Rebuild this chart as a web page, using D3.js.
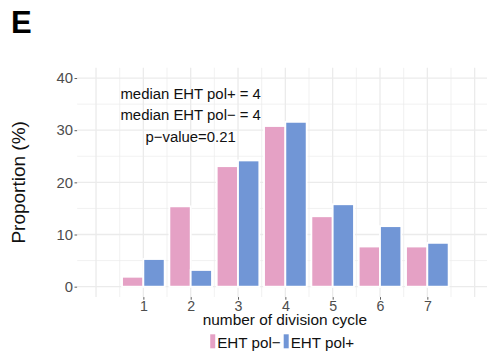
<!DOCTYPE html>
<html>
<head>
<meta charset="utf-8">
<script src="https://cdn.jsdelivr.net/npm/d3@7"></script>
<style>
  html, body { margin: 0; padding: 0; background: #fff; }
  svg { display: block; font-family: "Liberation Sans", Arial, Helvetica, sans-serif; }
</style>
</head>
<body>
<script>
// Division-cycle distribution for the two groups (percent of cells)
const cycles = [1, 2, 3, 4, 5, 6, 7];
const polMinus = [1.9, 15.4, 23.1, 30.8, 13.5, 7.7, 7.7];
const polPlus = [5.3, 3.2, 24.2, 31.6, 15.8, 11.6, 8.4];
const seriesNames = ["EHT pol\u2212", "EHT pol+"];
const seriesColors = ["#e5a1c5", "#7196d6"];
const yTicks = [0, 10, 20, 30, 40];
const notes = ["median EHT pol+ = 4", "median EHT pol\u2212 = 4", "p\u2212value=0.21"];

const W = 487, H = 354;
const svg = d3.select("body").append("svg").attr("width", W).attr("height", H);
svg.append("rect").attr("width", W).attr("height", H).attr("fill", "#fff");

const panel = { left: 77.1, right: 493.6, top: 67.6, bottom: 297.1 };
const x = d3.scaleLinear().domain([-0.4, 8.4]).range([panel.left, panel.right]);
const y = d3.scaleLinear().domain([-2, 42]).range([panel.bottom, panel.top]);

svg.append("clipPath").attr("id", "clip").append("rect")
  .attr("x", panel.left).attr("y", panel.top)
  .attr("width", panel.right - panel.left).attr("height", panel.bottom - panel.top);

const plot = svg.append("g").attr("clip-path", "url(#clip)");

// grid lines (minor then major)
const xMinor = d3.range(0.5, 8.5, 1);
const xMajor = d3.range(0, 9, 1);
const yMinor = [5, 15, 25, 35];
const grid = plot.append("g").attr("stroke", "#ebebeb");
grid.selectAll(".vx-minor").data(xMinor).join("line")
  .attr("x1", d => x(d)).attr("x2", d => x(d))
  .attr("y1", panel.top).attr("y2", panel.bottom).attr("stroke-width", 0.7);
grid.selectAll(".hy-minor").data(yMinor).join("line")
  .attr("y1", d => y(d)).attr("y2", d => y(d))
  .attr("x1", panel.left).attr("x2", panel.right).attr("stroke-width", 0.7);
grid.selectAll(".vx-major").data(xMajor).join("line")
  .attr("x1", d => x(d)).attr("x2", d => x(d))
  .attr("y1", panel.top).attr("y2", panel.bottom).attr("stroke-width", 1.3);
grid.selectAll(".hy-major").data(yTicks).join("line")
  .attr("y1", d => y(d)).attr("y2", d => y(d))
  .attr("x1", panel.left).attr("x2", panel.right).attr("stroke-width", 1.3);

// dodged bars
const dodge = 0.9, bw = dodge / 2;
const rows = cycles.map((c, i) => ({ c, vals: [polMinus[i], polPlus[i]] }));
const groups = plot.selectAll(".grp").data(rows).join("g");
groups.selectAll("rect").data(d => d.vals.map((v, k) => ({ c: d.c, v, k }))).join("rect")
  .attr("x", d => x(d.c - dodge / 2 + d.k * bw))
  .attr("width", d => x(bw) - x(0))
  .attr("y", d => y(d.v))
  .attr("height", d => y(0) - y(d.v))
  .attr("fill", d => seriesColors[d.k])
  .attr("stroke", "#fff")
  .attr("stroke-width", 1.8);

// axes
const axisColor = "#4d4d4d";
const yAxis = svg.append("g").attr("transform", `translate(${panel.left},0)`)
  .call(d3.axisLeft(y).tickValues(yTicks).tickSize(2.6).tickPadding(1.5));
const xAxis = svg.append("g").attr("transform", `translate(0,${panel.bottom})`)
  .call(d3.axisBottom(x).tickValues(cycles).tickFormat(d3.format("d")).tickSize(2.6).tickPadding(1.2));
[yAxis, xAxis].forEach(a => {
  a.select(".domain").remove();
  a.selectAll(".tick line").attr("stroke", "#333").attr("stroke-width", 0.8);
  a.selectAll(".tick text").attr("fill", axisColor)
    .attr("font-family", "Liberation Sans, Arial, sans-serif");
});
yAxis.selectAll(".tick text").attr("font-size", 14.8);
xAxis.selectAll(".tick text").attr("font-size", 14.2);

// annotations
const noteY = [36, 31.9, 27.8];
svg.append("g").selectAll("text").data(notes).join("text")
  .attr("x", x(2)).attr("y", (d, i) => y(noteY[i]))
  .attr("text-anchor", "middle").attr("font-size", 14.9).attr("fill", "#111")
  .text(d => d);

// axis titles
const cx = (panel.left + panel.right) / 2;
svg.append("text").attr("x", cx - 0.5).attr("y", 324.8)
  .attr("text-anchor", "middle").attr("font-size", 15.4).attr("fill", "#111")
  .text("number of division cycle");
svg.append("text")
  .attr("transform", `translate(25.3,${(panel.top + panel.bottom) / 2}) rotate(-90)`)
  .attr("text-anchor", "middle").attr("font-size", 19).attr("fill", "#111")
  .text("Proportion (%)");

// panel tag
svg.append("text").attr("x", 11).attr("y", 32.7)
  .attr("font-size", 31).attr("font-weight", "bold").attr("fill", "#000").text("E");

// legend
const legend = svg.append("g");
const items = legend.selectAll("g").data(seriesNames).join("g");
items.append("rect").attr("width", 5).attr("height", 14).attr("y", 334.3)
  .attr("fill", (d, i) => seriesColors[i]);
items.append("text").attr("y", 347.6).attr("font-size", 15.2).attr("fill", "#111").text(d => d);
let widths = [];
items.select("text").each(function () { widths.push(this.getComputedTextLength()); });
const keyW = 5, gapKT = 2, gapItems = 3;
const total = widths.reduce((s, w) => s + keyW + gapKT + w, 0) + gapItems * (widths.length - 1);
let pos = 282.2 - total / 2;
items.each(function (d, i) {
  const g = d3.select(this);
  g.select("rect").attr("x", pos);
  g.select("text").attr("x", pos + keyW + gapKT);
  pos += keyW + gapKT + widths[i] + gapItems;
});
</script>
</body>
</html>
